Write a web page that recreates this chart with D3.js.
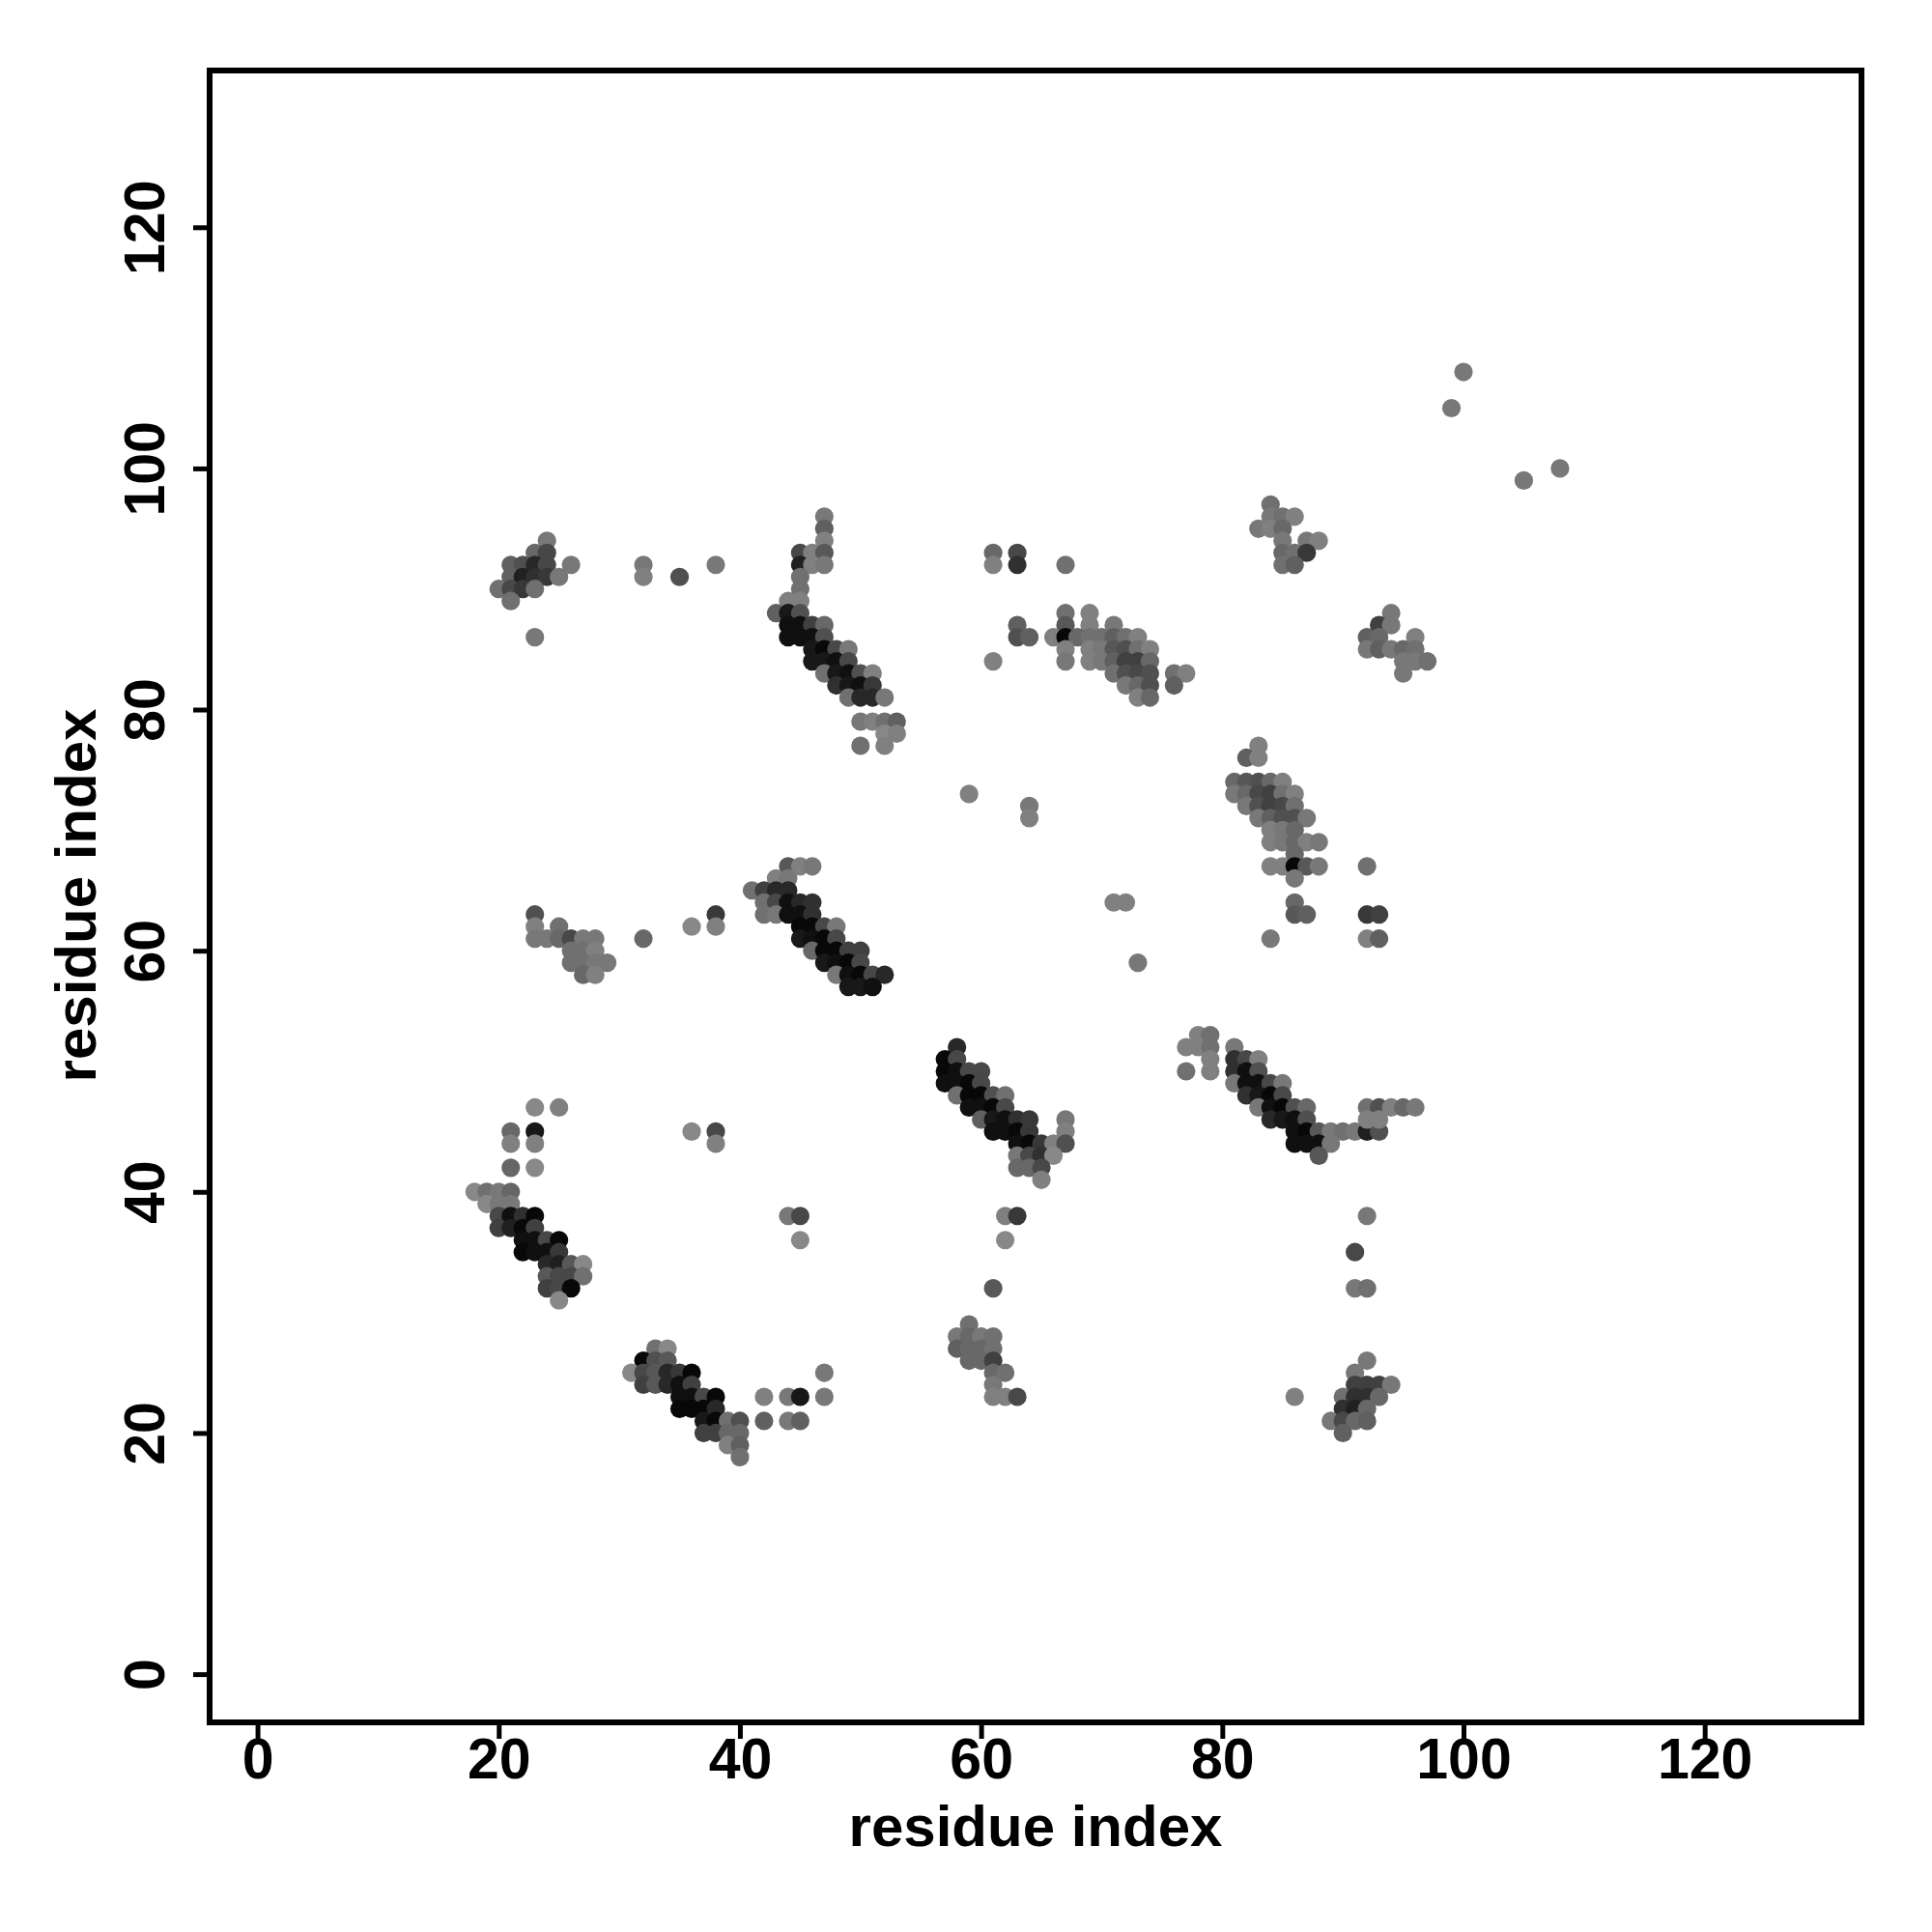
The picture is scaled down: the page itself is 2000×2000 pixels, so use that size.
<!DOCTYPE html>
<html><head><meta charset="utf-8">
<script src="https://cdn.jsdelivr.net/npm/d3@7"></script>
<style>html,body{margin:0;background:#fff}svg{display:block}
text{font-family:"Liberation Sans",Arial,sans-serif;font-weight:700;fill:#000}</style>
</head><body><svg id="c" width="2000" height="2000"></svg>
<script>
const xDomain = [-3.97, 133.0];
const yDomain = [-4.0, 133.0];
const tickValues = [0, 20, 40, 60, 80, 100, 120];
const xTitle = "residue index";
const yTitle = "residue index";

// each entry: [residue i, residue j, grey level]
const clusterA = [[23,47,0x88],[25,47,0x80],[21,45,0x68],[23,45,0x18],[21,44,0x80],[23,44,0x80],[21,42,0x66],[23,42,0x88],
[18,40,0x88],[19,40,0x70],[20,40,0x78],[21,40,0x66],[19,39,0x88],[20,39,0x78],[21,39,0x78],
[20,38,0x48],[21,38,0x10],[22,38,0x30],[23,38,0x08],[20,37,0x40],[21,37,0x20],[22,37,0x08],[23,37,0x40],
[22,36,0x10],[23,36,0x10],[24,36,0x48],[25,36,0x08],[22,35,0x08],[23,35,0x10],[24,35,0x10],[25,35,0x38],
[24,34,0x28],[25,34,0x20],[26,34,0x58],[27,34,0x88],[24,33,0x58],[25,33,0x48],[26,33,0x48],[27,33,0x70],
[24,32,0x40],[25,32,0x48],[26,32,0x08],[25,31,0x88],
[36,45,0x88],[38,45,0x48],[38,44,0x80],[44,38,0x78],[45,38,0x48],[45,36,0x88]];
const clusterB = [[33,27,0x70],[34,27,0x88],[32,26,0x08],[33,26,0x50],[34,26,0x58],[31,25,0x88],[32,25,0x48],[33,25,0x58],[34,25,0x28],[35,25,0x38],[36,25,0x08],
[32,24,0x40],[33,24,0x58],[34,24,0x28],[35,24,0x10],[36,24,0x40],[35,23,0x10],[36,23,0x10],[37,23,0x48],[38,23,0x08],
[35,22,0x08],[36,22,0x08],[37,22,0x08],[38,22,0x28],[37,21,0x18],[38,21,0x08],[39,21,0x70],[40,21,0x50],
[37,20,0x40],[38,20,0x40],[39,20,0x68],[40,20,0x68],[39,19,0x80],[40,19,0x60],[40,18,0x70],
[47,25,0x78],[42,23,0x80],[44,23,0x78],[45,23,0x18],[47,23,0x78],[42,21,0x60],[44,21,0x78],[45,21,0x60]];
const clusterC = [[58,52,0x28],[57,51,0x08],[58,51,0x48],[57,50,0x08],[58,50,0x10],[59,50,0x48],[60,50,0x48],
[57,49,0x10],[58,49,0x10],[59,49,0x08],[60,49,0x48],[58,48,0x70],[59,48,0x08],[60,48,0x08],[61,48,0x50],[62,48,0x70],
[59,47,0x10],[60,47,0x10],[61,47,0x08],[62,47,0x48],[60,46,0x60],[61,46,0x18],[62,46,0x10],[63,46,0x30],[64,46,0x38],[67,46,0x78],
[61,45,0x10],[62,45,0x10],[63,45,0x08],[64,45,0x38],[67,45,0x80],[63,44,0x10],[64,44,0x08],[65,44,0x38],[66,44,0x80],[67,44,0x50],
[63,43,0x78],[64,43,0x48],[65,43,0x30],[66,43,0x88],[63,42,0x68],[64,42,0x68],[65,42,0x48],[65,41,0x80],
[62,38,0x80],[63,38,0x38],[62,36,0x88],[61,32,0x58]];
const clusterD = [[78,53,0x80],[79,53,0x70],[77,52,0x80],[78,52,0x80],[79,52,0x70],[79,51,0x80],[79,50,0x80],[77,50,0x70],
[81,52,0x78],[81,51,0x30],[82,51,0x48],[83,51,0x80],[81,50,0x30],[82,50,0x10],[83,50,0x50],[81,49,0x78],[82,49,0x10],[83,49,0x10],[84,49,0x48],[85,49,0x78],
[82,48,0x30],[83,48,0x18],[84,48,0x08],[85,48,0x48],[83,47,0x78],[84,47,0x10],[85,47,0x08],[86,47,0x50],[87,47,0x68],
[84,46,0x28],[85,46,0x18],[86,46,0x10],[87,46,0x50],[86,45,0x10],[87,45,0x08],[88,45,0x58],[89,45,0x78],[90,45,0x70],[91,45,0x78],[92,45,0x20],[93,45,0x50],
[86,44,0x10],[87,44,0x10],[88,44,0x10],[89,44,0x78],[88,43,0x58],
[92,47,0x70],[93,47,0x50],[94,47,0x80],[95,47,0x68],[96,47,0x78],[92,46,0x80],[93,46,0x80]];
const clusterE = [[23,63,0x50],[23,62,0x80],[25,62,0x70],[23,61,0x78],[24,61,0x78],[25,61,0x68],[26,61,0x48],[27,61,0x78],[28,61,0x78],
[26,60,0x70],[27,60,0x70],[28,60,0x80],[26,59,0x70],[27,59,0x70],[28,59,0x78],[29,59,0x78],[27,58,0x68],[28,58,0x80],
[32,61,0x68],[36,62,0x88],[38,63,0x38],[38,62,0x80]];
const clusterF = [[44,67,0x58],[45,67,0x80],[46,67,0x78],[43,66,0x80],[44,66,0x78],[41,65,0x70],[42,65,0x40],[43,65,0x28],[44,65,0x28],
[42,64,0x70],[43,64,0x48],[44,64,0x10],[45,64,0x28],[46,64,0x30],[42,63,0x70],[43,63,0x78],[44,63,0x10],[45,63,0x10],[46,63,0x30],
[45,62,0x08],[46,62,0x08],[47,62,0x48],[48,62,0x78],[45,61,0x18],[46,61,0x10],[47,61,0x08],[48,61,0x48],
[46,60,0x68],[47,60,0x08],[48,60,0x08],[49,60,0x40],[50,60,0x40],[47,59,0x18],[48,59,0x10],[49,59,0x08],[50,59,0x48],
[48,58,0x78],[49,58,0x10],[50,58,0x08],[51,58,0x48],[52,58,0x28],[49,57,0x18],[50,57,0x18],[51,57,0x10]];
const clusterG = [[47,96,0x78],[47,95,0x60],[47,94,0x80],[45,93,0x48],[46,93,0x80],[47,93,0x58],[45,92,0x20],[46,92,0x80],[47,92,0x78],
[45,91,0x70],[45,90,0x70],[44,89,0x80],[45,89,0x80],[43,88,0x60],[44,88,0x18],[45,88,0x50],
[44,87,0x10],[45,87,0x10],[46,87,0x40],[47,87,0x68],[44,86,0x10],[45,86,0x10],[46,86,0x10],[47,86,0x50],
[46,85,0x18],[47,85,0x08],[48,85,0x48],[49,85,0x78],[46,84,0x18],[47,84,0x18],[48,84,0x10],[49,84,0x48],
[47,83,0x70],[48,83,0x18],[49,83,0x10],[50,83,0x50],[51,83,0x80],[48,82,0x30],[49,82,0x18],[50,82,0x10],[51,82,0x38],
[49,81,0x70],[50,81,0x28],[51,81,0x28],[52,81,0x78],[50,79,0x78],[51,79,0x80],[52,79,0x70],[53,79,0x60],[52,78,0x88],[53,78,0x80],[50,77,0x70],[52,77,0x80]];
const clusterH = [[67,88,0x70],[69,88,0x80],[67,87,0x58],[69,87,0x80],[71,87,0x78],[66,86,0x80],[67,86,0x08],[68,86,0x68],[69,86,0x70],[70,86,0x70],[71,86,0x60],[72,86,0x70],[73,86,0x80],
[67,85,0x80],[69,85,0x80],[70,85,0x78],[71,85,0x58],[72,85,0x50],[73,85,0x70],[74,85,0x80],[67,84,0x78],[69,84,0x80],[70,84,0x78],[71,84,0x60],[72,84,0x40],[73,84,0x40],[74,84,0x68],
[71,83,0x70],[72,83,0x50],[73,83,0x48],[74,83,0x50],[76,83,0x70],[77,83,0x80],[72,82,0x78],[73,82,0x68],[74,82,0x50],[76,82,0x60],[73,81,0x80],[74,81,0x68]];
const clusterI = [[83,77,0x80],[82,76,0x60],[83,76,0x80],[81,74,0x68],[82,74,0x58],[83,74,0x50],[84,74,0x68],[85,74,0x80],
[81,73,0x78],[82,73,0x68],[83,73,0x48],[84,73,0x40],[85,73,0x70],[86,73,0x80],[82,72,0x78],[83,72,0x50],[84,72,0x40],[85,72,0x48],[86,72,0x70],
[83,71,0x78],[84,71,0x60],[85,71,0x50],[86,71,0x50],[87,71,0x78],[84,70,0x80],[85,70,0x78],[86,70,0x68],[84,69,0x80],[85,69,0x78],[86,69,0x68],[87,69,0x80],[88,69,0x78],
[86,68,0x68],[84,67,0x80],[85,67,0x80],[86,67,0x08],[87,67,0x58],[88,67,0x78],[92,67,0x70],[86,66,0x78],[86,64,0x68],[86,63,0x58],[87,63,0x60],[92,63,0x38],[93,63,0x40],[84,61,0x78],[92,61,0x80],[93,61,0x60]];
const clusterJ = [[59,29,0x70],[58,28,0x78],[59,28,0x68],[60,28,0x78],[61,28,0x70],[58,27,0x60],[59,27,0x68],[60,27,0x68],[61,27,0x70],[59,26,0x68],[60,26,0x68],[61,26,0x40],
[61,25,0x68],[62,25,0x70],[61,24,0x78],[61,23,0x80],[62,23,0x80],[63,23,0x48]];
const clusterK = [[92,26,0x78],[91,25,0x78],[91,24,0x40],[92,24,0x40],[93,24,0x40],[94,24,0x78],[90,23,0x70],[91,23,0x30],[92,23,0x30],[93,23,0x68],
[90,22,0x30],[91,22,0x20],[92,22,0x68],[89,21,0x78],[90,21,0x48],[91,21,0x68],[92,21,0x60],[90,20,0x60],[86,23,0x80]];
const clusterL = [[24,94,0x78],[23,93,0x68],[24,93,0x48],[21,92,0x60],[22,92,0x50],[23,92,0x28],[24,92,0x48],[26,92,0x78],[21,91,0x60],[22,91,0x20],[23,91,0x30],[24,91,0x38],[25,91,0x78],
[20,90,0x70],[21,90,0x48],[22,90,0x38],[23,90,0x70],[21,89,0x70],[23,86,0x78]];
const clusterM = [[84,97,0x70],[84,96,0x78],[85,96,0x70],[86,96,0x80],[83,95,0x78],[84,95,0x80],[85,95,0x68],[85,94,0x78],[87,94,0x78],[88,94,0x80],[85,93,0x68],[86,93,0x70],[87,93,0x38],[85,92,0x70],[86,92,0x60]];
const clusterN = [[94,88,0x78],[93,87,0x40],[94,87,0x78],[92,86,0x60],[93,86,0x68],[96,86,0x80],[92,85,0x78],[93,85,0x60],[94,85,0x78],[95,85,0x68],[96,85,0x70],[95,84,0x78],[96,84,0x78],[97,84,0x70],[95,83,0x78]];
const isolated = [[100,108,0x78],[99,105,0x78],[105,99,0x78],[108,100,0x78],[59,73,0x80],[64,72,0x78],[64,71,0x80],[71,64,0x80],[72,64,0x80],[73,59,0x78],[61,84,0x80],
[61,93,0x68],[61,92,0x80],[63,93,0x48],[63,92,0x30],[63,87,0x60],[63,86,0x50],[64,86,0x60],[67,92,0x70],[32,92,0x78],[32,91,0x80],[35,91,0x50],[38,92,0x78],
[91,35,0x48],[91,32,0x78],[92,32,0x70],[92,38,0x78]];

const contacts = [clusterA,clusterB,clusterC,clusterD,clusterE,clusterF,clusterG,clusterH,clusterI,clusterJ,clusterK,clusterL,clusterM,clusterN,isolated].flat();

const svg = d3.select("#c");
const x = d3.scaleLinear().domain(xDomain).range([217, 1927]);
const y = d3.scaleLinear().domain(yDomain).range([1783, 73]);

svg.append("g").selectAll("circle").data(contacts).join("circle")
  .attr("cx", d => x(d[0])).attr("cy", d => y(d[1])).attr("r", 9.6)
  .attr("fill", d => d3.rgb(d[2], d[2], d[2]));

svg.append("rect").attr("x", 217).attr("y", 73).attr("width", 1710).attr("height", 1710)
  .attr("fill", "none").attr("stroke", "#000").attr("stroke-width", 6);

const gx = svg.append("g").attr("transform", "translate(0,1783)")
  .call(d3.axisBottom(x).tickValues(tickValues).tickSize(17));
const gy = svg.append("g").attr("transform", "translate(217,0)")
  .call(d3.axisLeft(y).tickValues(tickValues).tickSize(17));
[gx, gy].forEach(g => {
  g.select(".domain").remove();
  g.selectAll("line").attr("stroke", "#000").attr("stroke-width", 5);
  g.selectAll("text").attr("font-size", 59).attr("font-family", null).attr("fill", "#000");
});
gx.selectAll("text").attr("dy", null).attr("y", 58);
gy.selectAll("text").attr("text-anchor", "middle").attr("dy", null)
  .attr("x", null).attr("transform", "translate(-47,0) rotate(-90)");

svg.append("text").attr("x", 1072).attr("y", 1911).attr("text-anchor", "middle").attr("font-size", 60).text(xTitle);
svg.append("text").attr("transform", "translate(99,927) rotate(-90)").attr("text-anchor", "middle").attr("font-size", 60).text(yTitle);
</script></body></html>
